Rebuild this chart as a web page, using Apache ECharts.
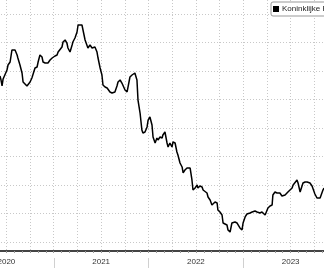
<!DOCTYPE html>
<html>
<head>
<meta charset="utf-8">
<script src="https://cdn.jsdelivr.net/npm/echarts@6/dist/echarts.min.js"></script>
<style>
html,body{margin:0;padding:0;background:#fff;}
#c{width:324px;height:268px;}
</style>
</head>
<body>
<div id="c"></div>
<script>
const seriesName = 'Koninklijke Philips NV';
const yearLabels = ['2020', '2021', '2022', '2023'];
const dates = [
'2020-06-07','2020-06-11','2020-06-15','2020-06-19','2020-06-26','2020-07-04','2020-07-08','2020-07-16','2020-07-23','2020-07-27',
'2020-08-04','2020-08-12','2020-08-15','2020-08-23','2020-08-31','2020-09-04','2020-09-11','2020-09-19','2020-09-23','2020-10-01',
'2020-10-08','2020-10-12','2020-10-20','2020-10-28','2020-11-01','2020-11-08','2020-11-16','2020-11-20','2020-11-28','2020-12-05',
'2020-12-09','2020-12-17','2020-12-25','2020-12-28','2021-01-05','2021-01-13','2021-01-17','2021-01-24','2021-02-01','2021-02-05',
'2021-02-13','2021-02-20','2021-02-24','2021-03-04','2021-03-12','2021-03-15','2021-03-23','2021-03-31','2021-04-04','2021-04-11',
'2021-04-19','2021-04-23','2021-05-01','2021-05-08','2021-05-12','2021-05-20','2021-05-28','2021-06-01','2021-06-08','2021-06-16',
'2021-06-20','2021-06-28','2021-07-05','2021-07-09','2021-07-17','2021-07-25','2021-07-28','2021-08-05','2021-08-13','2021-08-17',
'2021-08-24','2021-09-01','2021-09-05','2021-09-13','2021-09-20','2021-09-24','2021-10-02','2021-10-10','2021-10-13','2021-10-21',
'2021-10-29','2021-11-02','2021-11-09','2021-11-13','2021-11-17','2021-11-21','2021-11-29','2021-12-06','2021-12-10','2021-12-18',
'2021-12-26','2021-12-30','2022-01-06','2022-01-10','2022-01-14','2022-01-18','2022-01-26','2022-02-02','2022-02-06','2022-02-14',
'2022-02-22','2022-02-25','2022-03-05','2022-03-13','2022-03-17','2022-03-24','2022-04-01','2022-04-05','2022-04-13','2022-04-20',
'2022-04-24','2022-05-02','2022-05-10','2022-05-14','2022-05-21','2022-05-29','2022-06-02','2022-06-10','2022-06-17','2022-06-21',
'2022-06-29','2022-07-07','2022-07-10','2022-07-18','2022-07-26','2022-07-30','2022-08-06','2022-08-14','2022-08-18','2022-08-26',
'2022-09-02','2022-09-06','2022-09-14','2022-09-22','2022-09-25','2022-10-03','2022-10-11','2022-10-15','2022-10-22','2022-10-30',
'2022-11-03','2022-11-11','2022-11-18','2022-11-22','2022-11-30','2022-12-08','2022-12-12','2022-12-19','2022-12-27','2022-12-31',
'2023-01-08','2023-01-15','2023-01-19','2023-01-27','2023-02-04','2023-02-07','2023-02-15','2023-02-23','2023-02-27','2023-03-06',
'2023-03-14','2023-03-18','2023-03-26','2023-04-02','2023-04-06','2023-04-14','2023-04-22','2023-04-25','2023-05-03','2023-05-11',
'2023-05-15','2023-05-22','2023-05-30','2023-06-03','2023-06-11','2023-06-18','2023-06-22','2023-06-30','2023-07-08','2023-07-12',
'2023-07-19','2023-07-27','2023-07-31','2023-08-08','2023-08-15','2023-08-19','2023-08-27','2023-09-04','2023-09-15','2023-09-23',
'2023-09-27','2023-10-04','2023-10-12','2023-10-16','2023-10-24','2023-10-31','2023-11-04','2023-11-08'
];
const prices = [
39.12,38.42,37.37,38.60,38.95,40.18,41.05,41.58,43.68,43.33,
43.68,42.81,42.28,41.05,39.65,38.07,37.89,37.37,37.02,38.07,
38.77,38.95,40.53,40.70,41.58,42.81,42.46,41.58,41.40,41.05,
41.40,41.93,42.28,42.46,42.63,42.81,43.33,43.68,44.21,45.09,
45.44,44.91,44.04,43.33,44.56,45.09,45.79,46.84,48.07,48.42,
48.07,47.72,45.44,45.79,44.04,44.56,44.04,44.39,44.21,43.33,
42.28,40.53,39.30,37.54,37.19,37.02,37.02,36.32,36.14,36.49,
36.32,37.37,38.07,38.42,37.89,37.54,36.67,36.32,36.14,38.95,
39.30,39.12,39.65,39.82,38.42,34.91,32.63,29.65,29.12,29.30,
30.18,31.40,31.93,31.75,30.53,28.42,27.37,28.25,27.89,28.42,
28.25,28.77,29.30,27.37,26.67,27.37,26.67,27.54,27.37,25.79,
25.26,23.86,23.16,22.11,22.63,22.98,22.63,22.98,20.88,19.12,
19.47,20.00,19.47,19.82,19.65,19.12,19.12,18.60,17.89,17.37,
16.49,16.14,17.02,16.84,15.61,15.26,14.74,13.33,13.51,12.98,
12.11,11.75,13.33,12.98,13.51,13.33,13.51,12.46,12.11,13.33,
14.39,14.91,15.09,15.09,15.26,15.61,15.44,15.26,15.09,15.09,
15.26,15.09,14.74,14.39,15.96,16.32,16.49,18.25,18.77,18.60,
18.60,18.60,18.07,17.89,18.25,18.60,18.77,19.12,19.47,20.00,
20.35,20.88,20.35,18.77,19.12,20.35,20.53,20.53,20.35,19.82,
19.47,18.42,17.72,17.54,17.72,17.89,19.12,19.47
];

const months = [];
yearLabels.forEach(y => { for (let m = 1; m <= 12; m++) months.push(y + '-' + (m < 10 ? '0' + m : m)); });

const gridColor = '#c8c8c8';
const chart = echarts.init(document.getElementById('c'), null, {renderer: 'canvas'});
chart.setOption({
  animation: false,
  backgroundColor: '#ffffff',
  legend: {
    left: 271, top: 2,
    icon: 'rect', itemWidth: 6, itemHeight: 6,
    padding: [3, 4, 3, 2],
    borderColor: '#999', borderWidth: 1, borderRadius: 2,
    backgroundColor: '#fff',
    textStyle: {fontSize: 8, color: '#222', fontFamily: 'Liberation Sans, Arial, sans-serif', padding: [0, 0, 0, -2]},
    data: [seriesName]
  },
  grid: [
    {left: -41, right: -14, top: 14, bottom: 26, outerBoundsMode: 'none', containLabel: false},
    {left: -41, right: -14, top: 0, bottom: 17, outerBoundsMode: 'none', containLabel: false}
  ],
  xAxis: [
    {type: 'time', gridIndex: 0, min: '2020-01-01', max: '2024-01-01', show: false},
    {type: 'category', gridIndex: 1, data: months, boundaryGap: true,
     axisLine: {show: true, lineStyle: {color: '#444', width: 2}},
     axisTick: {show: true, interval: 0, length: 2, lineStyle: {color: '#999'}},
     axisLabel: {show: false},
     splitLine: {show: true, interval: 2, lineStyle: {color: gridColor, type: [1, 2], width: 1}}},
    {type: 'category', gridIndex: 1, data: yearLabels, boundaryGap: true, position: 'bottom', offset: 7,
     axisLine: {show: false},
     axisTick: {show: true, length: 10, lineStyle: {color: '#d0d0d0'}},
     axisLabel: {show: true, margin: 0, fontSize: 8, color: '#333', fontFamily: 'Liberation Sans, Arial, sans-serif'},
     splitLine: {show: false}}
  ],
  yAxis: [
    {type: 'value', gridIndex: 0, min: 10, max: 50, interval: 5,
     axisLine: {show: false}, axisTick: {show: false}, axisLabel: {show: false},
     splitLine: {show: true, lineStyle: {color: gridColor, type: [1, 2], width: 1}}},
    {type: 'value', gridIndex: 1, show: false, splitLine: {show: false}}
  ],
  series: [{
    name: seriesName,
    type: 'line',
    xAxisIndex: 0, yAxisIndex: 0,
    data: dates.map((d, i) => [d, prices[i]]),
    showSymbol: false,
    lineStyle: {color: '#000', width: 1.5},
    itemStyle: {color: '#000'}
  }]
});
</script>
</body>
</html>
